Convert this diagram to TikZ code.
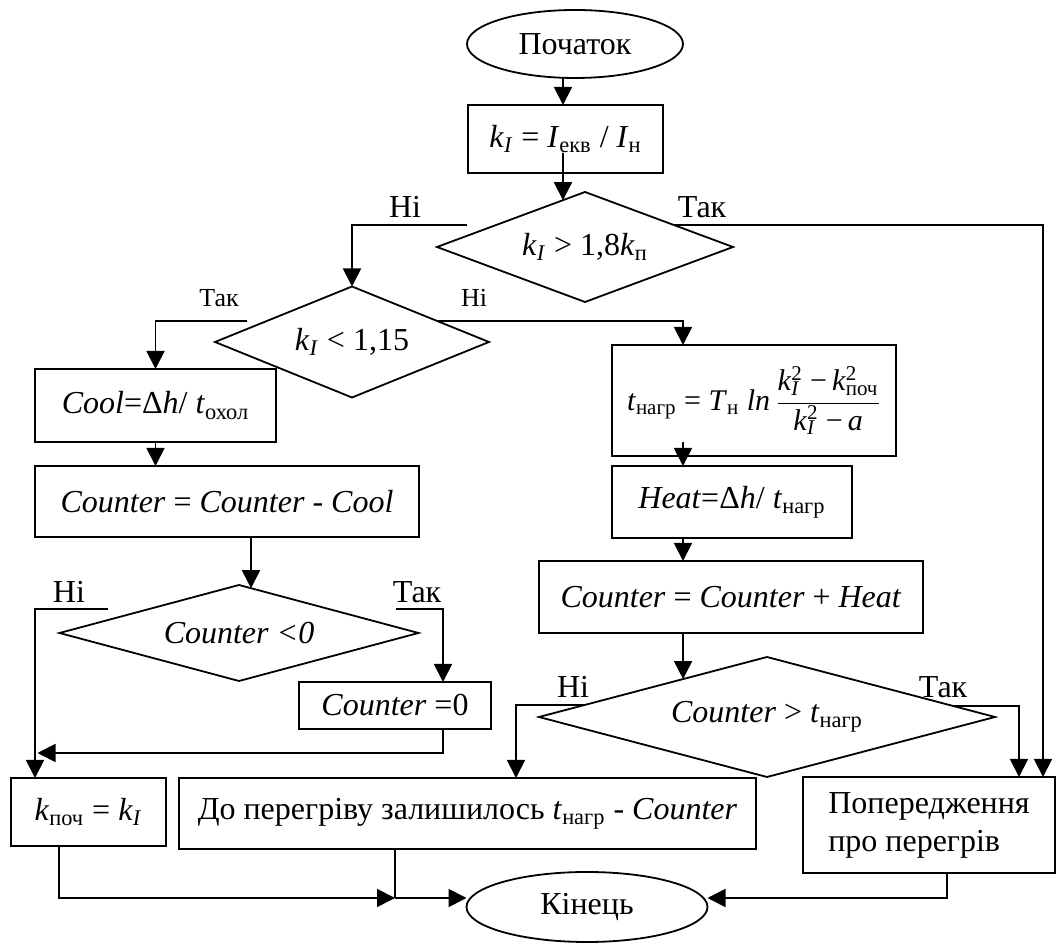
\documentclass[tikz,border=0pt]{standalone}
\usepackage{fontspec}
\setmainfont{Liberation Serif}
\usetikzlibrary{positioning,
				shapes.geometric,
				arrows.meta,
				calc}
\newcommand{\varsub}[2]{\textit{#1}\textsubscript{#2}}
\newcommand{\kI}{\varsub{k}{\textit{I}}}
\newcommand{\ksq}[1]{\textit{k}\rlap{\textsuperscript{2}}\textsubscript{#1}}

\begin{document}
\begin{tikzpicture}[x=0.5pt,y=-0.5pt,
		every node/.style={font=\fontsize{16}{19}\selectfont, inner sep=0pt, outer sep=0pt},
		block/.style={draw, rectangle, line width=0.9pt},
		decision/.style={draw, diamond, aspect=3, line width=0.9pt},
		terminal/.style={draw, ellipse, line width=0.9pt},
		lbl/.style={font=\fontsize{16}{19}\selectfont},
		smalllbl/.style={font=\fontsize{13}{15}\selectfont},
		arr/.style={-{Triangle[length=9pt,width=9pt]}, line width=0.9pt}]
	\fill[white] (0,0) rectangle (1057,945);
	% nodes
	\node[terminal, minimum width=108pt, minimum height=34pt] (start) at (575,44) {Початок};
	\node[block, minimum width=97.5pt, minimum height=34pt] (calc) at (565.5,139) {\kI\ = \varsub{I}{екв} / \varsub{I}{н}};
	\node[decision, minimum width=148pt, minimum height=55pt] (d1) at (585,247) {\kI\ > 1,8\varsub{k}{п}};
	\node[decision, minimum width=137pt, minimum height=55.5pt] (d2) at (352,342) {\kI\ < 1,15};
	\node[block, minimum width=120.5pt, minimum height=36.5pt] (cool) at (155.5,405.5) {\textit{Cool}=Δ\textit{h}/ \varsub{t}{охол}};
	\node[block, minimum width=192pt, minimum height=35.5pt] (cminus) at (227,501.5) {\textit{Counter} = \textit{Counter} - \textit{Cool}};
	\node[decision, minimum width=179.5pt, minimum height=48pt] (d3) at (239,633) {\textit{Counter <0}};
	\node[block, minimum width=96pt, minimum height=23.5pt] (czero) at (395,705.5) {\textit{Counter} =0};
	\node[block, minimum width=77.5pt, minimum height=34pt] (kpoch) at (88.5,812) {\varsub{k}{поч} = \kI};
	\node[block, minimum width=288.5pt, minimum height=35.5pt] (remain) at (467.5,813.5) {До перегріву залишилось \varsub{t}{нагр} - \textit{Counter}};
	\node[block, minimum width=142pt, minimum height=55.5pt, font=\fontsize{15}{18}\selectfont] (tnagr) at (754,400.5)
		{\varsub{t}{нагр} = \varsub{T}{н} \textit{ln}\,$\displaystyle\frac{\mbox{\ksq{\textit{I}}\,\,−\,\ksq{поч}}}{\mbox{\ksq{\textit{I}}\,\,−\,\textit{a}}}$};
	\node[block, minimum width=120pt, minimum height=36pt] (heat) at (732,502) {\textit{Heat}=Δ\textit{h}/ \varsub{t}{нагр}};
	\node[block, minimum width=192pt, minimum height=36pt] (cplus) at (731,597) {\textit{Counter} = \textit{Counter} + \textit{Heat}};
	\node[decision, minimum width=228pt, minimum height=60pt] (d4) at (767,717) {\textit{Counter} > \varsub{t}{нагр}};
	\node[block, minimum width=126pt, minimum height=48pt, align=left] (warn) at (929,825) {Попередження\\про перегрів};
	\node[terminal, minimum width=120.5pt, minimum height=35pt] (end) at (587,907) {Кінець};
	% labels
	\node[lbl] (no1) at (405,207) {Ні};
	\node[lbl] (yes1) at (702,207) {Так};
	\node[smalllbl] (yes2) at (219,298) {Так};
	\node[smalllbl] (no2) at (474,298) {Ні};
	\node[lbl] (no3) at (69,592) {Ні};
	\node[lbl] (yes3) at (417,592) {Так};
	\node[lbl] (no4) at (573,687) {Ні};
	\node[lbl] (yes4) at (943,687) {Так};
	% connectors
	\draw[arr] ($(start.south)+(-12,0)$) -- ($(calc.north)+(-2.5,0)$);
	\draw[arr] ($(calc.south)+(-2.5,-20)$) -- ($(d1.north)!0.149!(d1.west)$);
	\draw[arr] ($(d1.west)+(30,-22)$) -| (d2.north);
	\draw[arr] ($(d1.north)!0.6!(d1.east)$) -| ($(warn.north)+(114,0)$);
	\draw[arr] ($(d2.west)+(32,-21)$) -| (cool.north);
	\draw[arr] ($(d2.north)!0.62!(d2.east)$) -| ($(tnagr.north)+(-71,0)$);
	\draw[arr] (cool.south) -- (cool.south |- cminus.north);
	\draw[arr] ($(cminus.south)+(24,0)$) -- ($(d3.north)!0.067!(d3.east)$);
	\draw[arr] ($(d3.east)+(-23,-24)$) -| ($(czero.north)+(48,0)$);
	\draw[arr] ($(d3.west)+(48,-24)$) -| ($(kpoch.north)+(-53.5,0)$);
	\draw[arr] ($(czero.south)+(48,0)$) |- ($(kpoch.north)+(-51,-25)$);
	\draw[arr] ($(tnagr.south)+(-71,-14)$) -- ($(heat.north)+(-49,0)$);
	\draw[arr] ($(heat.south)+(-49,0)$) -- ($(cplus.north)+(-48,0)$);
	\draw[arr] ($(cplus.south)+(-48,0)$) -- ($(d4.north)!0.368!(d4.west)$);
	\draw[arr] ($(d4.west)!0.2!(d4.north)$) -| ($(remain.north)+(48.5,0)$);
	\draw[arr] ($(d4.north)!0.82!(d4.east)$) -| ($(warn.north)+(90,0)$);
	\coordinate (join) at (395,898);
	\draw[arr] ($(kpoch.south)+(-29.5,0)$) |- (join);
	\draw[line width=0.9pt] ($(remain.south)+(-72.5,0)$) -- (join);
	\draw[arr] (join) -- (join -| end.west);
	\draw[arr] ($(warn.south)+(18,0)$) |- (join -| end.east);
\end{tikzpicture}
\end{document}
